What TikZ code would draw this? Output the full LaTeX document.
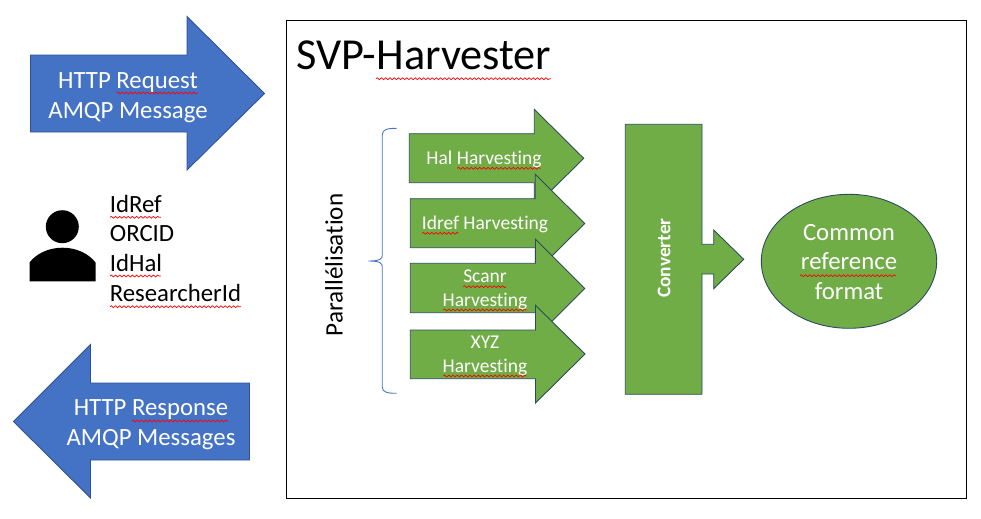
\documentclass[tikz,border=0pt]{standalone}
\usepackage{fontspec}
\setmainfont[Ligatures=NoCommon]{Carlito}
\usetikzlibrary{decorations.pathmorphing}
\definecolor{bluefill}{HTML}{4472C4}
\definecolor{blueline}{HTML}{2F528F}
\definecolor{greenfill}{HTML}{70AD47}
\definecolor{greenline}{HTML}{2A4A5E}
\tikzset{
  bluearrow/.style={fill=bluefill, draw=blueline, line width=0.5pt},
  greenshape/.style={fill=greenfill, draw=greenline, line width=0.5pt},
  bigtext/.style={align=center, text=white, font=\fontsize{14.1}{17}\selectfont},
  smalltext/.style={align=center, text=white, font=\fontsize{11.1}{13.6}\selectfont},
  spellmark/.style={draw=red, line width=0.4pt, decorate, decoration={snake, amplitude=0.55pt, segment length=2.4pt}},
}
\begin{document}
\begin{tikzpicture}[x=0.02cm, y=-0.02cm]
    \useasboundingbox (0,0) rectangle (981,518);

    % Main frame
    \draw[line width=0.6pt] (286.5,20.5) rectangle (966.5,498.5);
    \node[anchor=west, font=\fontsize{25.2}{30}\selectfont] (title) at (290,55.5) {SVP-Harvester};

    % Request and response arrows
    \draw[bluearrow] (30.5,55) -- (187,55) -- (187,16.5) -- (264.5,93.5) -- (187,170) -- (187,132) -- (30.5,132) -- cycle;
    \node[bigtext] (request) at (128,98) {HTTP Request\\AMQP Message};
    \draw[bluearrow] (249.5,383) -- (90.5,383) -- (90.5,344.5) -- (13.5,421.5) -- (90.5,498) -- (90.5,460) -- (249.5,460) -- cycle;
    \node[bigtext] (response) at (151,424.5) {HTTP Response\\AMQP Messages};

    % Person and identifiers
    \fill (62.3,226.7) circle (16.5);
    \fill (29.5,281.3) -- (29.5,262.5) .. controls (36,254) and (48,247.7) .. (62.5,247.7) .. controls (77,247.7) and (89,254) .. (95.5,262.5) -- (95.5,281.3) -- cycle;
    \node[anchor=north west, inner sep=0pt, align=left, font=\fontsize{14.1}{16.9}\selectfont] (ids) at (109.5,194.5) {IdRef\\ORCID\\IdHal\\ResearcherId};

    % Brace
    \draw[bluefill, line width=0.5pt] (396.7,128.3) .. controls (388,128.3) and (382.3,129) .. (382.3,135) -- (382.3,255) .. controls (382.3,259) and (380,261) .. (368.3,261) .. controls (380,261) and (382.3,263) .. (382.3,267) -- (382.3,387) .. controls (382.3,392.5) and (388,393.3) .. (396.7,393.3);
    \node[rotate=90, font=\fontsize{14.3}{17}\selectfont] (para) at (334,265) {Parallélisation};

    % Harvesting arrows
    \draw[greenshape] (409.3,133.7) -- (534.3,133.7) -- (534.3,109.3) -- (583.7,158.3) -- (534.3,207.3) -- (534.3,182.7) -- (409.3,182.7) -- cycle;
    \node[smalltext] (hal) at (484,159.5) {Hal Harvesting};
    \draw[greenshape] (410.3,198.7) -- (535.3,198.7) -- (535.3,174.3) -- (584.7,223.5) -- (535.3,272.5) -- (535.3,247.7) -- (410.3,247.7) -- cycle;
    \node[smalltext] (idref) at (485,224) {Idref Harvesting};
    \draw[greenshape] (410.3,263.3) -- (535.5,263.3) -- (535.5,239.3) -- (584.7,288.5) -- (535.5,337.7) -- (535.5,312.7) -- (410.3,312.7) -- cycle;
    \node[smalltext] (scanr) at (485,289.5) {Scanr\\Harvesting};
    \draw[greenshape] (410.3,330) -- (535.5,330) -- (535.5,305.3) -- (585,354) -- (535.5,403) -- (535.5,378.7) -- (410.3,378.7) -- cycle;
    \node[smalltext] (xyz) at (485,355.5) {XYZ\\Harvesting};

    % Converter and its output
    \draw[greenshape] (625.3,124.3) -- (702,124.3) -- (702,244.3) -- (713.7,244.3) -- (713.7,230) -- (743.7,259.3) -- (713.7,288.7) -- (713.7,274) -- (702,274) -- (702,394.3) -- (625.3,394.3) -- cycle;
    \node[rotate=90, text=white, font=\fontsize{11}{13}\selectfont\bfseries] (converter) at (664,258) {Converter};
    \draw[greenshape] (849,261.3) ellipse (87.7 and 67);
    \node[bigtext] (common) at (849,262) {Common\\reference\\format};

    % Spelling marks
    \foreach \xa/\xb/\ya in {376/551/78.7, 116.7/197.7/93, 110/161/217.3, 110/161/276, 110/241/306.7, 131.7/228/421, 457.3/540.7/168.3, 422/458.7/233.3, 463.3/506/286.7, 443.3/526.7/310, 443.3/526.7/376, 800/896/275.7}
        \draw[spellmark] (\xa,\ya) -- (\xb,\ya);

\end{tikzpicture}
\end{document}
